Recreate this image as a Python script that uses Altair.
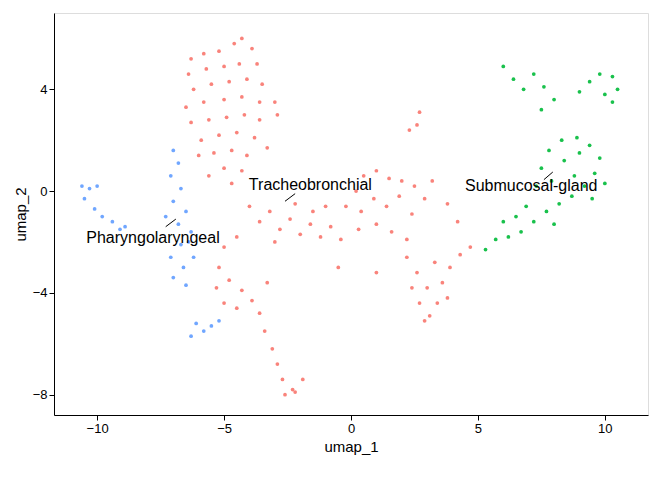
import pandas as pd
import altair as alt

# cell coordinates (umap_1, umap_2)
red_x = [-6.3,-5.8,-5.2,-4.6,-4.3,-3.9,-3.7,-4.4,-5.0,-5.7,-6.4,-6.2,-5.5,-4.8,-4.1,-3.5,-3.0,-3.6,-4.3,-5.0,-5.8,-6.5,-6.3,-5.6,-4.9,-4.2,-3.6,-3.8,-4.5,-5.2,-5.9,-6.0,-5.4,-4.7,-4.1,-4.3,-5.0,-5.6,-4.7,-3.3,-2.9,
         -4.0,-3.6,-3.2,-2.8,-2.4,-2.0,-1.6,-1.2,-0.8,-0.4,-2.2,-1.5,-3.0,-4.5,-5.0,
         -0.2,0.2,0.5,1.0,1.5,2.0,2.5,2.9,0.4,0.9,1.4,1.9,2.4,1.0,1.6,2.2,0.3,3.2,3.8,4.2,
         2.2,2.6,3.0,3.4,3.1,2.7,3.6,3.9,4.3,4.7,2.4,3.3,3.8,2.9,
         -5.2,-4.8,-4.3,-3.9,-3.6,-4.5,-5.3,-5.0,-3.3,
         -3.4,-3.1,-2.9,-2.7,-2.6,-2.3,-1.9,-2.2,
         2.7,2.6,2.3,-0.5,1.0,-1.0]
red_y = [5.2,5.4,5.5,5.8,6.0,5.6,5.0,5.0,4.9,4.8,4.6,4.0,4.2,4.3,4.4,4.2,3.5,3.5,3.7,3.6,3.5,3.3,2.7,2.8,2.9,3.0,2.8,2.1,2.3,2.2,2.0,1.4,1.5,1.6,1.4,0.8,0.9,0.6,0.3,1.7,3.0,
         -0.6,-1.2,-0.8,-1.5,-1.1,-1.7,-1.3,-1.8,-1.4,-1.9,-0.5,-0.8,-2.0,-1.8,-2.2,
         -0.6,0.0,0.6,0.8,0.5,0.4,0.2,-0.3,-0.8,-0.3,-0.6,-0.2,-0.9,-1.3,-1.6,-1.9,-1.5,0.4,-0.5,-1.2,
         -2.6,-3.2,-3.8,-4.4,-4.9,-4.4,-3.6,-3.0,-2.5,-2.2,-3.8,-2.8,-4.2,-5.1,
         -3.0,-3.5,-3.9,-4.3,-4.8,-4.6,-3.8,-4.4,-3.6,
         -5.5,-6.2,-6.8,-7.4,-8.0,-7.8,-7.4,-7.9,
         3.1,2.6,2.4,-3.0,-3.2,-0.6]

green_x = [6.0,6.4,6.8,7.2,7.6,8.0,7.5,9.4,9.8,10.3,10.5,10.3,9.0,10.0,
           5.7,6.2,6.7,7.2,7.7,8.2,8.7,9.2,9.6,9.8,9.4,8.9,8.3,7.8,7.5,7.3,6.9,8.4,8.8,9.5,8.0,6.5,9.0,7.9,10.0,6.0,5.3]
green_y = [4.9,4.4,4.0,4.6,4.1,3.6,3.2,4.3,4.6,4.5,4.0,3.5,3.9,3.8,
           -1.9,-1.8,-1.6,-1.2,-0.8,-0.5,-0.2,0.2,0.7,1.3,1.8,2.1,2.0,1.6,0.9,0.2,-0.6,1.2,0.6,-0.3,-1.3,-1.0,1.5,0.4,0.3,-1.2,-2.3]

blue_x = [-10.6,-10.3,-10.5,-10.1,-9.8,-9.4,-9.1,-8.9,-10.0,
          -7.0,-6.8,-7.1,-6.7,-7.0,-6.5,-6.8,-6.3,-6.7,-7.1,-6.6,-7.0,-6.5,-6.2,-7.3,
          -6.1,-5.8,-5.5,-6.3,-5.2,-6.4]
blue_y = [0.2,0.1,-0.3,-0.7,-1.0,-1.2,-1.5,-1.4,0.2,
          1.6,1.1,0.6,0.1,-0.4,-0.8,-1.3,-1.6,-2.1,-2.6,-3.0,-3.4,-3.7,-2.6,-1.0,
          -5.2,-5.5,-5.3,-5.7,-5.1,-2.0]

labels = ["Tracheobronchial", "Pharyngolaryngeal", "Submucosal-gland"]
label_x = [-1.6, -7.8, 7.1]
label_y = [0.25, -1.85, 0.2]
seg_x = [-2.6, -7.3, 7.6]
seg_y = [-0.4, -1.4, 0.45]
seg_x2 = [-2.2, -6.9, 7.95]
seg_y2 = [-0.1, -1.1, 0.75]

cells = pd.concat([
    pd.DataFrame({"umap_1": red_x, "umap_2": red_y, "region": "Tracheobronchial"}),
    pd.DataFrame({"umap_1": green_x, "umap_2": green_y, "region": "Submucosal-gland"}),
    pd.DataFrame({"umap_1": blue_x, "umap_2": blue_y, "region": "Pharyngolaryngeal"}),
])
lab = pd.DataFrame({"label": labels, "x": label_x, "y": label_y,
                    "sx": seg_x, "sy": seg_y, "sx2": seg_x2, "sy2": seg_y2})

xs = alt.Scale(domain=[-11.7, 11.7], nice=False, zero=False)
ys = alt.Scale(domain=[-8.8, 7.0], nice=False, zero=False)
ax = dict(grid=False, domainColor="black", tickColor="black", labelColor="black",
          labelFontSize=13, titleFontSize=15, titleFontWeight="normal", titleColor="black")

X = lambda f: alt.X(f, title="umap_1", scale=xs, axis=alt.Axis(values=[-10, -5, 0, 5, 10], **ax))
Y = lambda f: alt.Y(f, title="umap_2", scale=ys, axis=alt.Axis(values=[-8, -4, 0, 4], **ax))

points = alt.Chart(cells).mark_circle(size=14, opacity=0.9).encode(
    x=X("umap_1:Q"),
    y=Y("umap_2:Q"),
    color=alt.Color("region:N", legend=None,
                    scale=alt.Scale(domain=["Tracheobronchial", "Submucosal-gland", "Pharyngolaryngeal"],
                                    range=["#F8766D", "#00BA38", "#619CFF"])),
)

segs = alt.Chart(lab).mark_rule(color="black", strokeWidth=1).encode(
    x=X("sx:Q"), y=Y("sy:Q"), x2="sx2:Q", y2="sy2:Q")

texts = alt.Chart(lab).mark_text(fontSize=16, color="black", font="Liberation Sans").encode(
    x=X("x:Q"), y=Y("y:Q"), text="label:N")

chart = alt.layer(points, segs, texts).properties(width=594, height=402).configure_view(
    stroke=None).configure(font="Liberation Sans")

chart.save("out.html", embed_options={"renderer": "svg", "actions": False})
